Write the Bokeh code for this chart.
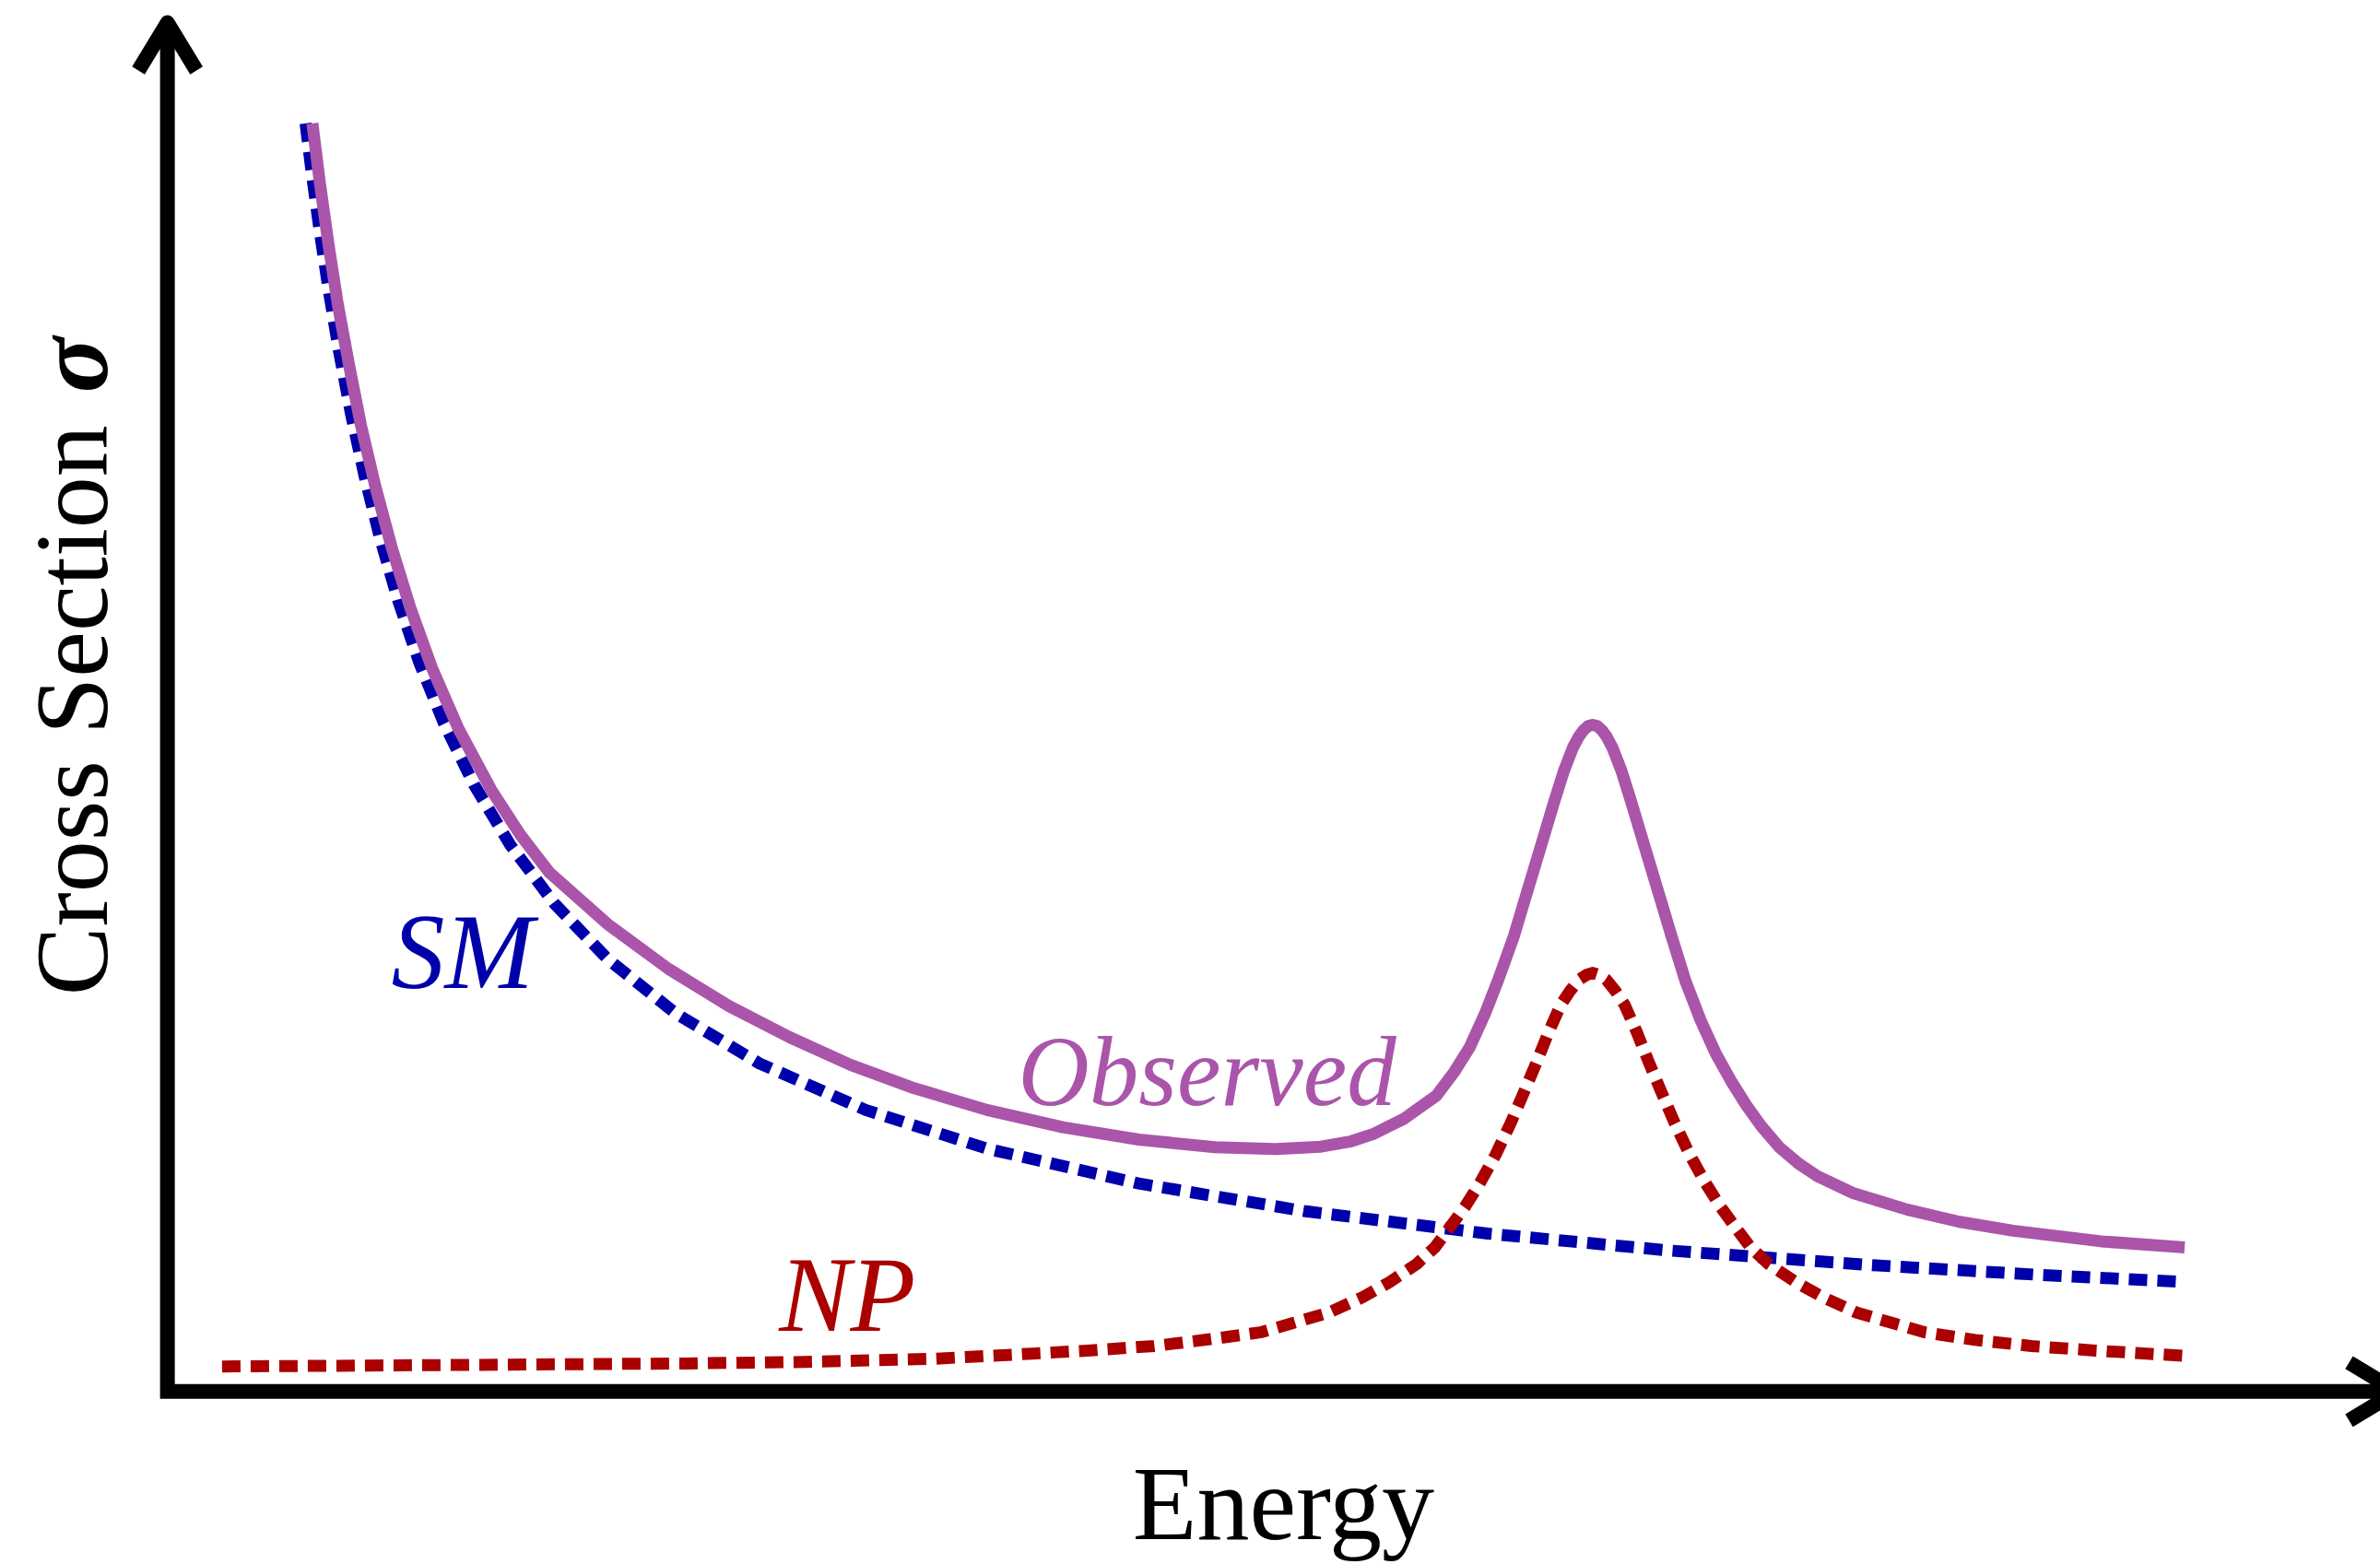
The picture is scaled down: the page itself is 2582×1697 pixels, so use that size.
import math
from bokeh.plotting import figure
from bokeh.models import Range1d, Label
from bokeh.embed import file_html
from bokeh.resources import INLINE

# ---- data (arbitrary units) ----
sm_energy = [0.91, 0.95, 1.00, 1.06, 1.13, 1.21, 1.30, 1.40, 1.52, 1.66, 1.82, 2.02, 2.26,
             2.55, 2.90, 3.35, 3.90, 4.60, 5.40, 6.40, 7.50, 8.70, 9.90, 11.20, 12.30, 13.29]
sm_sigma = [8.36, 8.04, 7.673, 7.275, 6.86, 6.442, 6.029, 5.629, 5.215, 4.804, 4.409, 4.00,
            3.601, 3.216, 2.851, 2.492, 2.163, 1.856, 1.601, 1.371, 1.188, 1.041, 0.929,
            0.835, 0.771, 0.722]

np_energy = [0.36, 1.90, 3.40, 4.20, 5.03, 5.70, 6.06, 6.50, 6.87, 7.20, 7.41, 7.65, 7.87,
             8.05, 8.23, 8.35, 8.44, 8.55, 8.65, 8.75, 8.85, 8.94, 9.02, 9.10, 9.18, 9.24,
             9.30, 9.35, 9.39, 9.43, 9.48, 9.54, 9.60, 9.68, 9.76, 9.84, 9.93, 10.03, 10.13,
             10.23, 10.34, 10.43, 10.55, 10.73, 10.91, 11.13, 11.37, 11.58, 11.91, 12.28,
             12.70, 13.29]
np_sigma = [0.165, 0.175, 0.185, 0.195, 0.215, 0.25, 0.27, 0.30, 0.345, 0.39, 0.45, 0.52,
            0.62, 0.72, 0.84, 0.95, 1.07, 1.22, 1.38, 1.56, 1.77, 1.98, 2.17, 2.37, 2.55,
            2.64, 2.715, 2.747, 2.76, 2.747, 2.715, 2.64, 2.55, 2.37, 2.17, 1.98, 1.77, 1.56,
            1.38, 1.22, 1.07, 0.95, 0.84, 0.72, 0.62, 0.52, 0.45, 0.39, 0.34, 0.30, 0.27,
            0.235]

obs_energy = [0.955, 1.004, 1.06, 1.122, 1.196, 1.275, 1.369, 1.476, 1.599, 1.743, 1.917,
              2.131, 2.325, 2.518, 2.90, 3.30, 3.70, 4.10, 4.50, 4.90, 5.40, 5.90, 6.40, 6.90,
              7.30, 7.60, 7.80, 7.95, 8.15, 8.36, 8.48, 8.58, 8.68, 8.77, 8.87, 8.96, 9.05,
              9.14, 9.20, 9.26, 9.30, 9.33, 9.36, 9.39, 9.42, 9.45, 9.48, 9.52, 9.58, 9.64,
              9.73, 9.82, 9.91, 10.00, 10.10, 10.20, 10.30, 10.40, 10.50, 10.62, 10.75, 10.87,
              11.10, 11.46, 11.80, 12.16, 12.74, 13.29]
obs_sigma = [8.36, 7.97, 7.57, 7.17, 6.77, 6.37, 5.97, 5.57, 5.17, 4.77, 4.37, 3.97, 3.67,
             3.42, 3.081, 2.787, 2.541, 2.335, 2.154, 2.006, 1.856, 1.742, 1.661, 1.611,
             1.598, 1.614, 1.65, 1.70, 1.80, 1.95, 2.11, 2.27, 2.49, 2.72, 3.00, 3.30, 3.60,
             3.90, 4.09, 4.245, 4.32, 4.36, 4.387, 4.395, 4.387, 4.36, 4.32, 4.245, 4.09,
             3.90, 3.60, 3.30, 3.00, 2.71, 2.45, 2.23, 2.05, 1.89, 1.75, 1.61, 1.50, 1.42,
             1.31, 1.20, 1.12, 1.06, 0.99, 0.95]

labels_text = {"x": "Energy", "y": "Cross Section", "ysym": "σ",
               "sm": "SM", "np": "NP", "obs": "Observed"}

# ---- figure ----
X0, X1 = -1.10, 14.58
Y0, Y1 = -1.14, 9.17
W, H = 2582, 1697
p = figure(width=W, height=H, x_range=Range1d(X0, X1), y_range=Range1d(Y0, Y1),
           output_backend="svg", toolbar_location=None, min_border=0,
           x_axis_type=None, y_axis_type=None)
p.grid.visible = False
p.outline_line_color = None
p.background_fill_color = "white"
p.border_fill_color = "white"

px_per_unit = W / (X1 - X0)

# axes with arrow heads
y_tip = 9.024
x_tip = 14.689
wing_back = 52 / px_per_unit
wing_side = 31.5 / px_per_unit
p.line(x=[0, 0, x_tip], y=[y_tip, 0, 0], line_width=16, line_color="black",
       line_join="miter", line_cap="butt")
p.multi_line(xs=[[-wing_side, 0, wing_side], [x_tip - wing_back, x_tip, x_tip - wing_back]],
             ys=[[y_tip - wing_back, y_tip, y_tip - wing_back], [wing_side, 0, -wing_side]],
             line_width=16, line_color="black", line_join="round", line_cap="butt")

BLUE = "#0000AA"
RED = "#AA0000"
PURPLE = "#AA55AA"

p.line(sm_energy, sm_sigma, line_width=13, line_color=BLUE, line_dash="20 11",
       line_cap="butt", line_join="round")
p.line(np_energy, np_sigma, line_width=13, line_color=RED, line_dash="20 11",
       line_cap="butt", line_join="round")
p.line(obs_energy, obs_sigma, line_width=13, line_color=PURPLE,
       line_cap="butt", line_join="round")

FONT = "Liberation Serif"
DY = 0.25  # compensation for the renderer's baseline placement
p.add_layout(Label(x=7.353, y=-0.99 + DY, text=labels_text["x"], text_font=FONT,
                   text_font_size="114px", text_align="center",
                   text_baseline="alphabetic", text_color="black"))
p.add_layout(Label(x=-0.38 - DY, y=2.61, text=labels_text["y"], text_font=FONT,
                   text_font_size="112px", text_align="left", angle=math.pi / 2,
                   text_baseline="alphabetic", text_color="black"))
p.add_layout(Label(x=-0.38 - DY, y=6.95, text=labels_text["ysym"], text_font=FONT,
                   text_font_size="112px", text_align="right", angle=math.pi / 2,
                   text_font_style="bold italic",
                   text_baseline="alphabetic", text_color="black"))
p.add_layout(Label(x=1.945, y=2.65 + DY, text=labels_text["sm"], text_font=FONT,
                   text_font_size="116px", text_align="center", text_font_style="italic",
                   text_baseline="alphabetic", text_color=BLUE))
p.add_layout(Label(x=6.85, y=1.86 + DY, text=labels_text["obs"], text_font=FONT,
                   text_font_size="107px", text_align="center", text_font_style="italic",
                   text_baseline="alphabetic", text_color=PURPLE))
p.add_layout(Label(x=4.48, y=0.39 + DY, text=labels_text["np"], text_font=FONT,
                   text_font_size="116px", text_align="center", text_font_style="italic",
                   text_baseline="alphabetic", text_color=RED))

open("out.html", "w").write(file_html(p, INLINE))
